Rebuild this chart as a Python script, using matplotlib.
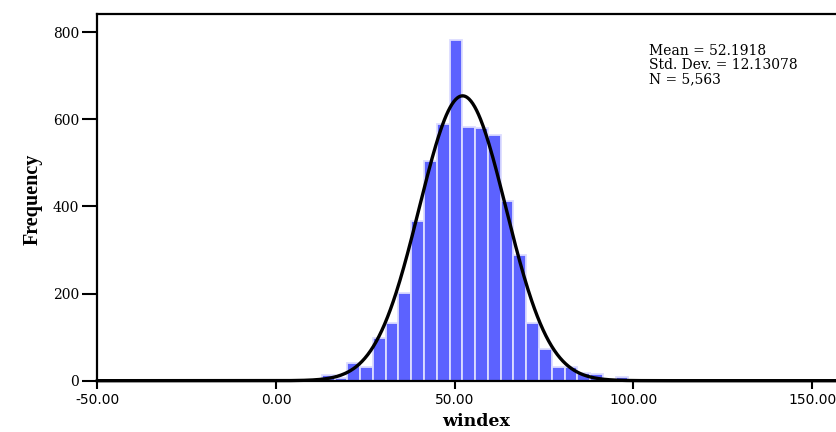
import numpy as np
import matplotlib
matplotlib.use("Agg")
import matplotlib.pyplot as plt

# histogram of windex
BIN_START = 12.8
BIN_WIDTH = 3.575
COUNTS = [13, 6, 41, 31, 97, 133, 201, 367, 504, 589, 782, 583,
          581, 564, 413, 288, 132, 73, 31, 31, 18, 15, 0, 8]

MEAN = 52.1918
STD_DEV = 12.13078
N = 5563

X_TICKS = [-50, 0, 50, 100, 150]
Y_TICKS = [0, 200, 400, 600, 800]
X_LIM = (-50, 162)
Y_LIM = (0, 842)

BAR_COLOR = '#5c62ff'
BAR_EDGE = '#dcdcff'


def main():
    fig = plt.figure(figsize=(8.36, 4.32), dpi=100)
    ax = fig.add_axes([0.1165, 0.1188, 0.9062, 0.8488])

    lefts = BIN_START + BIN_WIDTH * np.arange(len(COUNTS))
    ax.bar(lefts, COUNTS, width=BIN_WIDTH, align='edge',
           color=BAR_COLOR, edgecolor=BAR_EDGE, linewidth=1.3, zorder=2)

    # fitted normal curve from the stats in the corner
    xs = np.linspace(X_LIM[0], X_LIM[1], 800)
    peak = N * BIN_WIDTH / (STD_DEV * np.sqrt(2 * np.pi))
    ys = peak * np.exp(-0.5 * ((xs - MEAN) / STD_DEV) ** 2)
    ax.plot(xs, ys, color='black', linewidth=2.4, zorder=3, clip_on=False)

    ax.set_xlim(*X_LIM)
    ax.set_ylim(*Y_LIM)
    ax.set_xticks(X_TICKS)
    ax.set_xticklabels(["{:.2f}".format(v) for v in X_TICKS],
                       family='DejaVu Sans', fontsize=10)
    ax.set_yticks(Y_TICKS)
    ax.set_yticklabels([str(v) for v in Y_TICKS],
                       family='DejaVu Serif', fontsize=10)

    ax.tick_params(axis='x', length=6, width=1.5, pad=3)
    ax.tick_params(axis='y', length=11, width=1.5, pad=2)

    for side in ['left', 'bottom', 'top']:
        ax.spines[side].set_linewidth(1.6)
    ax.spines['right'].set_visible(False)

    ax.set_xlabel('windex', family='DejaVu Serif', fontweight='bold', fontsize=12.5)
    ax.xaxis.set_label_coords(0.5, -0.088)
    ax.set_ylabel('Frequency', family='Liberation Serif', fontweight='bold', fontsize=14.5)
    ax.yaxis.set_label_coords(-0.072, 0.495)

    ax.text(0.728, 0.918,
            "Mean = {}\nStd. Dev. = {}\nN = {:,}".format(MEAN, STD_DEV, N),
            transform=ax.transAxes, ha='left', va='top',
            family='DejaVu Serif', fontsize=10, linespacing=1.0)

    fig.savefig('out.png', dpi=100)


main()
